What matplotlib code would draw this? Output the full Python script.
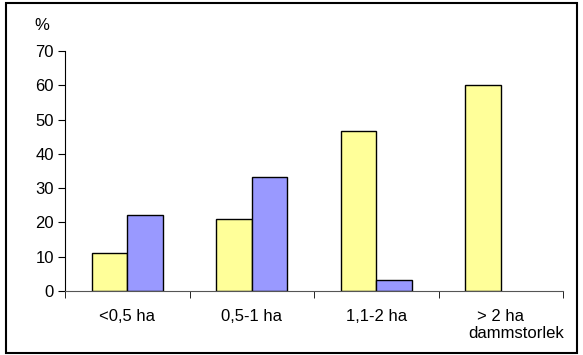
import matplotlib
matplotlib.use("Agg")
import matplotlib.pyplot as plt
import numpy as np
from matplotlib.patches import Rectangle

plt.rcParams['font.family'] = ['Liberation Sans', 'DejaVu Sans']

categories = ["<0,5 ha", "0,5-1 ha", "1,1-2 ha", "> 2 ha"]
series_yellow = [11.1, 21.1, 46.7, 60.0]
series_blue = [22.2, 33.3, 3.3, 0.0]
yticks = [0, 10, 20, 30, 40, 50, 60, 70]

FS = 12

fig = plt.figure(figsize=(5.83, 3.55), dpi=100)
ax = fig.add_axes([65/583, 1-291/355, (563-65)/583, (291-51)/355])

x = np.arange(len(categories))
w = 0.285
ax.bar(x - w/2, series_yellow, width=w, color="#FFFF99", edgecolor="black", linewidth=1)
bl = [v if v > 0 else np.nan for v in series_blue]
ax.bar(x + w/2, bl, width=w, color="#9999FF", edgecolor="black", linewidth=1)

ax.set_xlim(-0.5, len(categories) - 0.5)
ax.set_ylim(0, 70)
ax.set_yticks(yticks)
ax.set_yticklabels([str(t) for t in yticks], fontsize=FS)
ax.set_xticks(x)
ax.set_xticklabels(categories, fontsize=FS)
ax.tick_params(axis='x', length=0, pad=13)
ax.set_xticks(np.arange(len(categories) + 1) - 0.5, minor=True)
ax.tick_params(axis='x', which='minor', length=5, direction='out', color='black')
ax.tick_params(axis='y', length=5, direction='out', pad=3, color='black')
for s in ['top', 'right']:
    ax.spines[s].set_visible(False)
ax.spines['left'].set_color('black')
ax.spines['bottom'].set_color('#555555')

fig.text(42/583, 1-25/355, "%", fontsize=FS, ha='center', va='center')
fig.text(564/583, 1-334/355, "dammstorlek", fontsize=FS, ha='right', va='center')

fig.patches.append(Rectangle((6/583, 2/355), 571/583, 350/355, transform=fig.transFigure,
                             fill=False, edgecolor='black', linewidth=1.5))

fig.savefig("out.png", dpi=100)
